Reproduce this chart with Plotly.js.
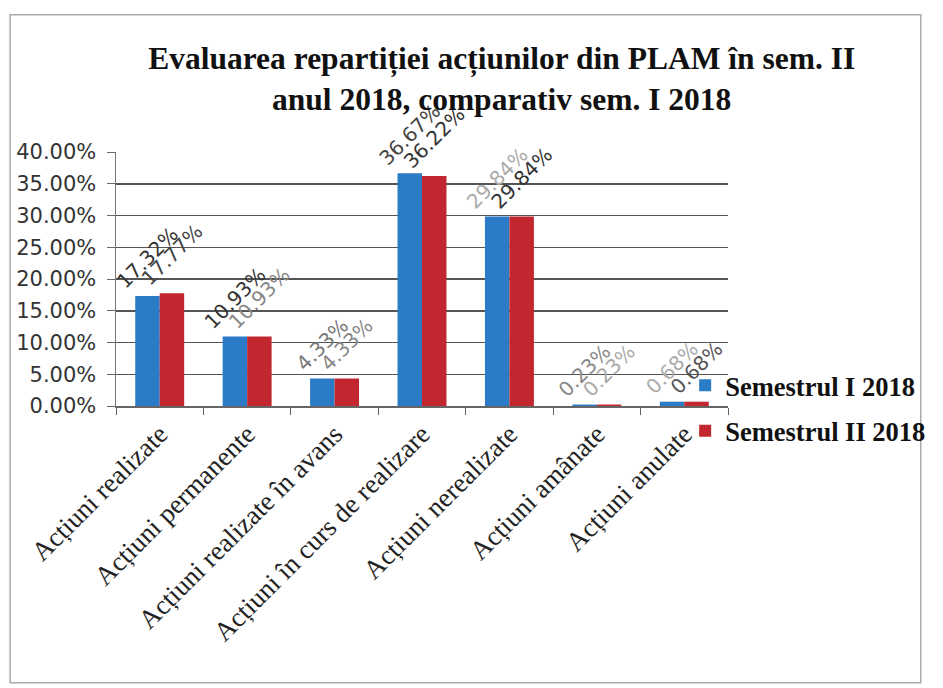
<!DOCTYPE html>
<html>
<head>
<meta charset="utf-8">
<script src="https://cdn.plot.ly/plotly-3.0.1.min.js"></script>
<style>html,body{margin:0;padding:0;background:#fff;}#chart{width:943px;height:688px;}</style>
</head>
<body>
<div id="chart"></div>
<script>
const categories = ["Acțiuni realizate", "Acțiuni permanente", "Acțiuni realizate în avans", "Acțiuni în curs de realizare", "Acțiuni nerealizate", "Acțiuni amânate", "Acțiuni anulate"];
const sem1 = [17.32, 10.93, 4.33, 36.67, 29.84, 0.23, 0.68];
const sem2 = [17.77, 10.93, 4.33, 36.22, 29.84, 0.23, 0.68];
const seriesNames = ["Semestrul I 2018", "Semestrul II 2018"];
const yTickVals = [0, 5, 10, 15, 20, 25, 30, 35, 40];
const yTickText = ["0.00%", "5.00%", "10.00%", "15.00%", "20.00%", "25.00%", "30.00%", "35.00%", "40.00%"];
const titleText = "<b>Evaluarea repartiției acțiunilor din PLAM în sem. II<br>anul 2018, comparativ sem. I 2018</b>";

const lab1Colors = ["#333", "#333", "#777", "#444", "#aaa", "#888", "#aaa"];
const lab2Colors = ["#444", "#888", "#888", "#333", "#333", "#aaa", "#555"];

function mk(vals, name, color, labColors, grp) {
  return {
    type: "bar", x: categories, y: vals, name: name, legendgroup: grp,
    marker: {color: color},
    text: vals.map(v => v.toFixed(2) + "%"),
    textposition: "outside", textangle: -45,
    textfont: {family: "DejaVu Sans", size: 20, color: labColors},
    cliponaxis: false, constraintext: "none",
    hoverinfo: "skip"
  };
}

const data = [
  mk(sem1, seriesNames[0], "#2b7bc6", lab1Colors, "a"),
  mk(sem2, seriesNames[1], "#c2272f", lab2Colors, "b")
];

const layout = {
  width: 943, height: 688,
  paper_bgcolor: "#fff", plot_bgcolor: "#fff",
  margin: {l: 116, r: 203, t: 152, b: 282},
  barmode: "group", bargap: 0.44, bargroupgap: 0,
  title: {text: titleText, x: 0.532, xanchor: "center", y: 0.90, yanchor: "top",
          font: {family: "Liberation Serif", size: 31.5, color: "#111"}},
  xaxis: {
    type: "category", tickangle: -45, ticks: "outside", tickson: "boundaries",
    ticklen: 7, tickcolor: "#666", showline: true, linecolor: "#666", linewidth: 1.5,
    tickfont: {family: "Liberation Serif", size: 27, color: "#222"},
    showgrid: false
  },
  yaxis: {
    range: [0, 40], tickvals: yTickVals, ticktext: yTickText,
    ticks: "outside", ticklen: 8, tickcolor: "#666", ticklabelstandoff: 6,
    showline: true, linecolor: "#777", linewidth: 1.5,
    showgrid: true, gridcolor: "#555", gridwidth: 1.5,
    tickfont: {family: "DejaVu Sans", size: 21, color: "#333"},
    zeroline: false
  },
  legend: {
    x: 0.93, xanchor: "left", y: 0.175, yanchor: "top",
    font: {family: "Liberation Serif", size: 26.5, color: "#111", weight: "bold"},
    tracegroupgap: 8, bgcolor: "rgba(0,0,0,0)"
  },
  showlegend: true,
  shapes: [
    {type: "rect", xref: "paper", yref: "paper", x0: -0.173, x1: 1.315, y0: -1.09, y1: 1.54,
     line: {color: "#aaa", width: 1.5}, fillcolor: "rgba(0,0,0,0)", layer: "below"}
  ]
};

Plotly.newPlot("chart", data, layout, {displayModeBar: false, staticPlot: true});
</script>
</body>
</html>
